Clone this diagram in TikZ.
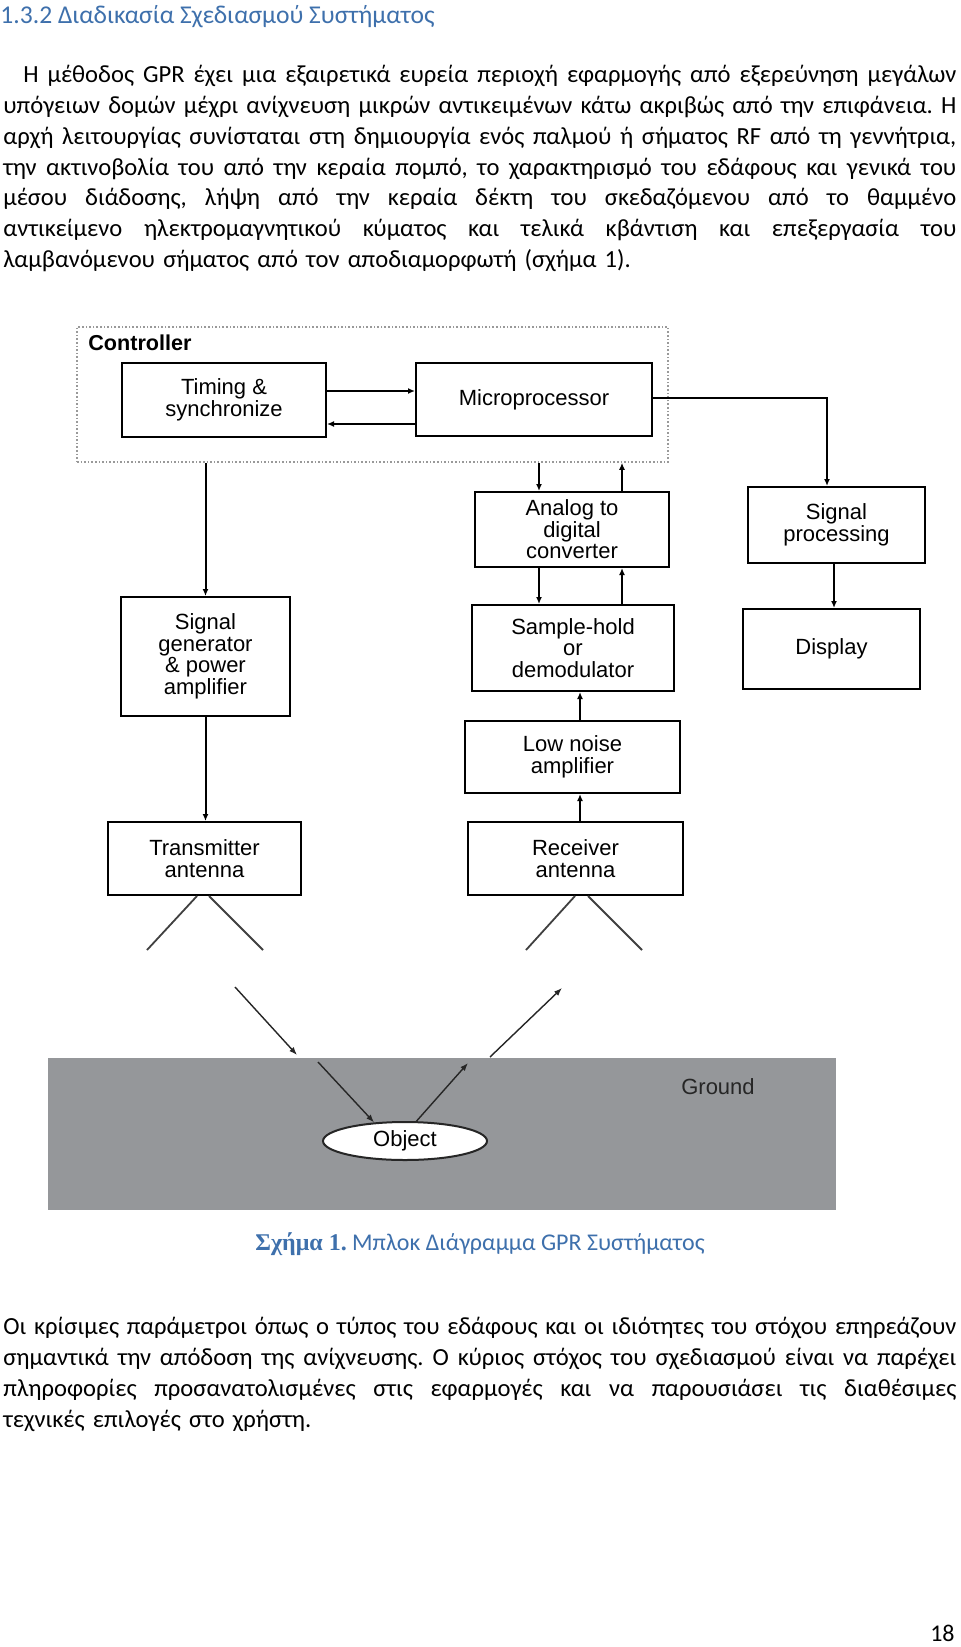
\documentclass[tikz,border=0pt]{standalone}
\usepackage{fontspec}
\setmainfont{Carlito}
\newfontfamily\diagfont{Liberation Sans}
\newfontfamily\capserif{Liberation Serif}
\usetikzlibrary{arrows.meta,shapes.geometric}
\definecolor{headblue}{RGB}{62,112,172}
\definecolor{groundgray}{RGB}{149,151,154}
\frenchspacing
\newcommand{\jline}[1]{\makebox[476.5pt][s]{\spaceskip=0.226em plus 1fil minus 0.08em\relax #1}}

\begin{document}
\begin{tikzpicture}[x=0.5pt,y=-0.5pt,
  blk/.style={draw=black, line width=1pt, inner sep=0pt, align=center,
    font=\diagfont\fontsize{11pt}{10.8pt}\selectfont},
  arr/.style={-{Latex[length=3.5pt,width=3pt]}, line width=1pt},
  ray/.style={-{Latex[length=4pt,width=3pt]}, line width=0.7pt, black!85},
  ant/.style={line width=0.9pt, black!75},
  bodytext/.style={anchor=base west, inner sep=0pt, text width=476.5pt, align=left}]
  \useasboundingbox[fill=white] (0,0) rectangle (960,1647);

  % heading and first paragraph
  \node[anchor=base west, inner sep=0pt, text=headblue, font=\fontsize{12.8pt}{15pt}\selectfont]
    (head) at (0,24) {1.3.2 Διαδικασία Σχεδιασμού Συστήματος};
  \node[bodytext, font=\fontsize{12.3pt}{15.35pt}\selectfont] (par1) at (3,83) {%
    \jline{\hspace*{10pt}Η μέθοδος GPR έχει μια εξαιρετικά ευρεία περιοχή εφαρμογής από εξερεύνηση μεγάλων}\\
    \jline{υπόγειων δομών μέχρι ανίχνευση μικρών αντικειμένων κάτω ακριβώς από την επιφάνεια. Η}\\
    \jline{αρχή λειτουργίας συνίσταται στη δημιουργία ενός παλμού ή σήματος RF από τη γεννήτρια,}\\
    \jline{την ακτινοβολία του από την κεραία πομπό, το χαρακτηρισμό του εδάφους και γενικά του}\\
    \jline{μέσου διάδοσης, λήψη από την κεραία δέκτη του σκεδαζόμενου από το θαμμένο}\\
    \jline{αντικείμενο ηλεκτρομαγνητικού κύματος και τελικά κβάντιση και επεξεργασία του}\\
    λαμβανόμενου σήματος από τον αποδιαμορφωτή (σχήμα 1).};

  % controller
  \node[draw=black!40, densely dotted, line width=0.8pt, minimum width=295.5pt, minimum height=67.5pt,
    inner sep=0pt] (ctrl) at (372.5,394.5) {};
  \node[anchor=west, inner sep=0pt, font=\diagfont\bfseries\fontsize{10.8pt}{12pt}\selectfont]
    (ctrllbl) at (88,343) {Controller};
  \node[blk, minimum width=102pt, minimum height=37pt] (timing) at (224,400) {Timing \&\\synchronize};
  \node[blk, minimum width=118pt, minimum height=36.5pt] (micro) at (534,399.5) {Microprocessor};

  % receive chain
  \node[blk, minimum width=97pt, minimum height=37.5pt] (adc) at (572,529.5) {Analog to\\digital\\converter};
  \node[blk, minimum width=101pt, minimum height=43pt] (sh) at (573,648) {Sample-hold\\or\\demodulator};
  \node[blk, minimum width=107.5pt, minimum height=36pt] (lna) at (572.5,757) {Low noise\\amplifier};
  \node[blk, minimum width=107.5pt, minimum height=36.5pt] (rx) at (575.5,858.5) {Receiver\\antenna};
  \node[blk, minimum width=88.5pt, minimum height=38pt] (sp) at (836.5,525) {Signal\\processing};
  \node[blk, minimum width=88.5pt, minimum height=40pt] (disp) at (831.5,649) {Display};

  % transmit chain
  \node[blk, minimum width=84.5pt, minimum height=59.5pt] (siggen) at (205.5,656.5) {Signal\\generator\\\& power\\amplifier};
  \node[blk, minimum width=96.5pt, minimum height=36.5pt] (tx) at (204.5,858.5) {Transmitter\\antenna};

  \draw[arr] (timing.east |- 0,391) -- (micro.west |- 0,391);
  \draw[arr] (micro.west |- 0,424) -- (timing.east |- 0,424);
  \draw[arr] (siggen.north |- ctrl.south) -- (siggen.north);
  \draw[arr] (ctrl.south -| 539,0) -- (adc.north -| 539,0);
  \draw[arr] (adc.north -| 622,0) -- (ctrl.south -| 622,0);
  \draw[arr] (micro.east |- 0,398) -| (827,0 |- sp.north);
  \draw[arr] (adc.south -| 539,0) -- (sh.north -| 539,0);
  \draw[arr] (sh.north -| 622,0) -- (adc.south -| 622,0);
  \draw[arr] (lna.north -| 580,0) -- (sh.south -| 580,0);
  \draw[arr] (rx.north -| 580,0) -- (lna.south -| 580,0);
  \draw[arr] (sp.south -| 834,0) -- (disp.north -| 834,0);
  \draw[arr] (siggen.south) -- (tx.north -| siggen.south);

  % antennas
  \coordinate (txl) at (147,950);
  \coordinate (txr) at (263,950);
  \coordinate (rxl) at (526,950);
  \coordinate (rxr) at (642,950);
  \draw[ant] (tx.south -| 197,0) -- (txl);
  \draw[ant] (tx.south -| 209,0) -- (txr);
  \draw[ant] (rx.south -| 575,0) -- (rxl);
  \draw[ant] (rx.south -| 588,0) -- (rxr);

  % ground and object
  \fill[groundgray] (48,1058) rectangle (836,1210);
  \node[inner sep=0pt, font=\diagfont\fontsize{11pt}{12pt}\selectfont, text=black!85] (gndlbl) at (718,1087) {Ground};
  \node[ellipse, draw=black!85, line width=1pt, fill=white, minimum width=82pt, minimum height=19pt,
    inner sep=0pt, font=\diagfont\fontsize{11pt}{12pt}\selectfont] (obj) at (405,1141) {Object};

  \coordinate (inA) at (235,987);
  \coordinate (inB) at (297,1055);
  \coordinate (inC) at (318,1062);
  \coordinate (outB) at (468,1063);
  \coordinate (outC) at (490,1057);
  \coordinate (outD) at (562,988);
  \draw[ray] (inA) -- (inB);
  \draw[ray] (inC) -- (obj.149);
  \draw[ray] (obj.60) -- (outB);
  \draw[ray] (outC) -- (outD);

  % caption, second paragraph, page number
  \node[anchor=base, inner sep=0pt, text=headblue, font=\fontsize{12pt}{14pt}\selectfont]
    (cap) at (480,1250) {{\capserif\bfseries Σχήμα 1.} Μπλοκ Διάγραμμα GPR Συστήματος};
  \node[bodytext, font=\fontsize{12.3pt}{15.5pt}\selectfont] (par2) at (3,1334) {%
    \jline{Οι κρίσιμες παράμετροι όπως ο τύπος του εδάφους και οι ιδιότητες του στόχου επηρεάζουν}\\
    \jline{σημαντικά την απόδοση της ανίχνευσης. Ο κύριος στόχος του σχεδιασμού είναι να παρέχει}\\
    \jline{πληροφορίες προσανατολισμένες στις εφαρμογές και να παρουσιάσει τις διαθέσιμες}\\
    τεχνικές επιλογές στο χρήστη.};
  \node[anchor=base east, inner sep=0pt, font=\fontsize{12pt}{14pt}\selectfont] (pagenum) at (955,1641) {18};
\end{tikzpicture}
\end{document}
